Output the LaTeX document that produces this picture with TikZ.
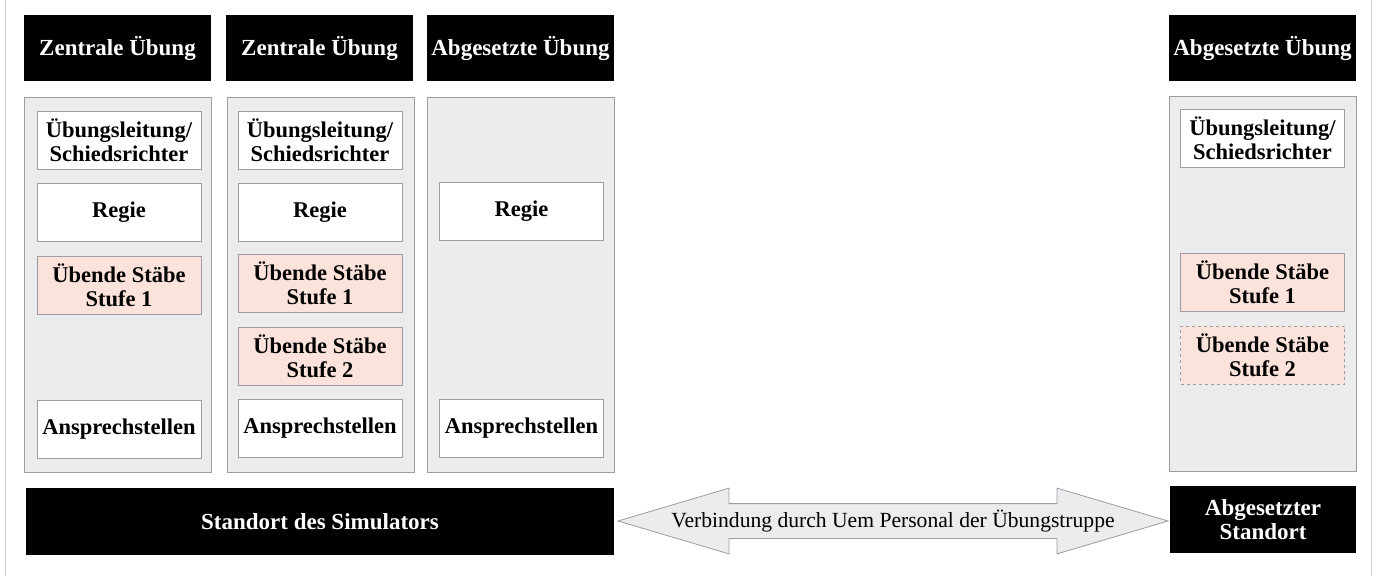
\documentclass[tikz,border=0pt]{standalone}
\usepackage{fontspec}
\setmainfont{Liberation Serif}
\usetikzlibrary{shapes.arrows}

\definecolor{panelgray}{HTML}{ECECEC}
\definecolor{rimgray}{HTML}{9E9AA6}
\definecolor{stabpink}{HTML}{FBE3DB}

\tikzset{
  head/.style={fill=black,text=white,font=\fontsize{23}{24}\selectfont\bfseries,
               minimum width=187,minimum height=66,inner sep=0},
  panel/.style={draw=rimgray,fill=panelgray,line width=0.8,minimum width=187,minimum height=375},
  cell/.style={draw=rimgray,fill=white,line width=0.8,minimum width=164,minimum height=58,
               align=center,inner sep=0,font=\fontsize{22.5}{24}\selectfont\bfseries},
  stab/.style={cell,fill=stabpink},
  site/.style={fill=black,text=white,align=center,inner sep=0,minimum height=67,
               font=\fontsize{23}{24}\selectfont\bfseries}
}

\begin{document}
\begin{tikzpicture}[x=1pt,y=-1pt]
  \useasboundingbox (0,0) rectangle (1377,576);
  \draw[rimgray!50] (5,0) -- (5,576);
  \draw[rimgray!50] (1371,0) -- (1371,576);
  % Column headers
  \node[head] (h1) at (117.5,48) {Zentrale Übung};
  \node[head] (h2) at (319.5,48) {Zentrale Übung};
  \node[head] (h3) at (520.5,48) {Abgesetzte Übung};
  \node[head] (h4) at (1262.5,48) {Abgesetzte Übung};
  % Gray panels
  \node[panel] (p1) at (118,284.5) {};
  \node[panel] (p2) at (320.5,284.5) {};
  \node[panel] (p3) at (520.5,284.5) {};
  \node[panel] (p4) at (1262.5,283.5) {};
  % Column 1
  \node[cell] (l1) at (119,140) {Übungsleitung/\\Schiedsrichter};
  \node[cell] (r1) at (119,212) {Regie};
  \node[stab] (s11) at (119,285) {Übende Stäbe\\Stufe 1};
  \node[cell] (a1) at (119,429) {Ansprechstellen};
  % Column 2
  \node[cell] (l2) at (320,140) {Übungsleitung/\\Schiedsrichter};
  \node[cell] (r2) at (320,212) {Regie};
  \node[stab] (s21) at (320,283) {Übende Stäbe\\Stufe 1};
  \node[stab] (s22) at (320,356) {Übende Stäbe\\Stufe 2};
  \node[cell] (a2) at (320,428) {Ansprechstellen};
  % Column 3
  \node[cell] (r3) at (521.5,211) {Regie};
  \node[cell] (a3) at (521.5,428) {Ansprechstellen};
  % Column 4
  \node[cell] (l4) at (1262.5,138) {Übungsleitung/\\Schiedsrichter};
  \node[stab] (s41) at (1262.5,282) {Übende Stäbe\\Stufe 1};
  \node[stab,dashed] (s42) at (1262.5,355) {Übende Stäbe\\Stufe 2};
  % Sites
  \node[site,minimum width=588] (sim) at (320,521.5) {Standort des Simulators};
  \node[site,minimum width=186] (abg) at (1263,519.5) {Abgesetzter\\Standort};
  % Connection arrow (text laid over it)
  \node[double arrow,draw=rimgray,fill=panelgray,line width=0.8,
        minimum height=550,minimum width=65,inner xsep=0,inner ysep=17,
        double arrow head extend=15.5,double arrow tip angle=33]
        (link) at (893,521) {};
  \node[font=\fontsize{21.6}{23}\selectfont] (linktext) at (link.center)
        {Verbindung durch Uem Personal der Übungstruppe};
\end{tikzpicture}
\end{document}
